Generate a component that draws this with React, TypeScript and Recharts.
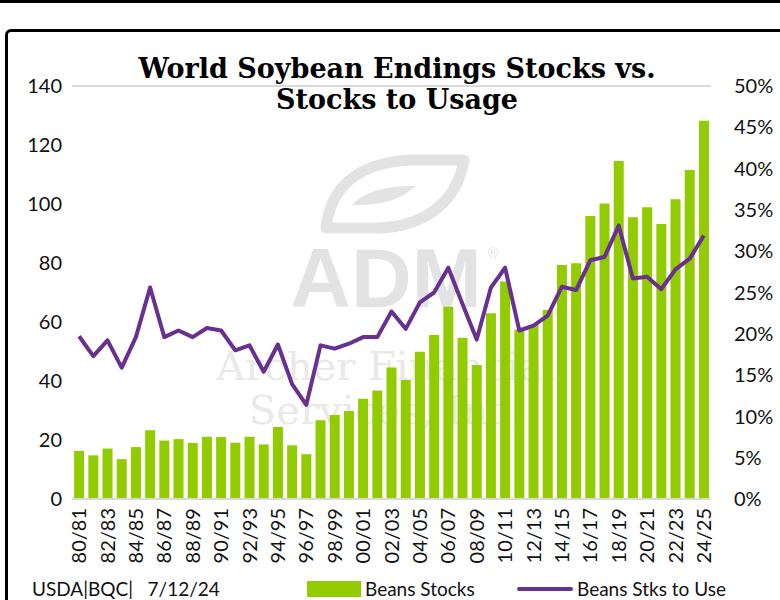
import React from 'react';
import { ComposedChart, Bar, Line, XAxis, YAxis, CartesianGrid } from 'recharts';

const years = [
  '80/81', '81/82', '82/83', '83/84', '84/85', '85/86', '86/87', '87/88', '88/89', '89/90',
  '90/91', '91/92', '92/93', '93/94', '94/95', '95/96', '96/97', '97/98', '98/99', '99/00',
  '00/01', '01/02', '02/03', '03/04', '04/05', '05/06', '06/07', '07/08', '08/09', '09/10',
  '10/11', '11/12', '12/13', '13/14', '14/15', '15/16', '16/17', '17/18', '18/19', '19/20',
  '20/21', '21/22', '22/23', '23/24', '24/25',
];

const beansStocks = [
  16.3, 14.8, 17.1, 13.5, 17.6, 23.3, 19.8, 20.3, 19.0, 21.1,
  21.0, 19.1, 21.1, 18.5, 24.4, 18.2, 15.2, 26.7, 28.5, 29.8,
  34.0, 36.8, 44.6, 40.3, 49.9, 55.6, 65.2, 54.7, 45.4, 63.0,
  73.7, 57.5, 59.0, 64.1, 79.3, 79.9, 95.9, 100.2, 114.6, 95.5,
  98.9, 93.2, 101.6, 111.5, 128.2,
];

const stksToUse = [
  19.7, 17.3, 19.2, 15.9, 19.6, 25.6, 19.6, 20.4, 19.6, 20.7,
  20.4, 18.0, 18.6, 15.4, 18.7, 13.9, 11.4, 18.6, 18.2, 18.8,
  19.6, 19.6, 22.7, 20.6, 23.8, 25.0, 28.0, 23.6, 19.3, 25.6,
  28.0, 20.4, 21.0, 22.2, 25.7, 25.3, 28.9, 29.3, 33.1, 26.7,
  26.9, 25.4, 27.8, 29.1, 31.9,
];

const leftTicks = [0, 20, 40, 60, 80, 100, 120, 140];
const rightTicks = [0, 5, 10, 15, 20, 25, 30, 35, 40, 45, 50];

const titleLines = ['World Soybean Endings Stocks vs.', 'Stocks to Usage'];
const seriesNames = ['Beans Stocks', 'Beans Stks to Use'];
const sourceNote = 'USDA|BQC|   7/12/24';
const watermarkLines = ['ADM', 'Archer Financial', 'Services, Inc.'];

const data = years.map((y, i) => ({ year: y, stocks: beansStocks[i], ratio: stksToUse[i] }));

const GREEN = '#92cc00';
const PURPLE = '#68308f';
const FONT = 'Lato, "Open Sans", sans-serif';
const TEXT = '#111';
const WM = '#e3e3e3';

const XTick = (props: any) => {
  const { x, y, payload } = props;
  return (
    <text
      x={x}
      y={y}
      transform={`rotate(-90, ${x}, ${y})`}
      textAnchor="end"
      dy="0.36em"
      fontSize={20}
      fontFamily={FONT}
      fill={TEXT}
    >
      {payload.value}
    </text>
  );
};

const Watermark = () => (
  <svg width={780} height={600} style={{ position: 'absolute', left: 0, top: 0 }}>
    <g fill="none" stroke={WM} strokeWidth={11} strokeLinejoin="round">
      <path d="M 326,228 C 330,190 355,163 410,160 L 464,160 C 458,196 432,226 378,228 Z" />
    </g>
    <path d="M 352,205 C 365,190 390,186 412,186 L 416,186 C 400,200 380,206 352,205 Z" fill={WM} />
    <text x={386} y={307} textAnchor="middle" fontSize={84} fontWeight="bold" fontFamily='"Liberation Sans", Arial, sans-serif' fill={WM}>{watermarkLines[0]}</text>
    <text x={488} y={258} fontSize={14} fontFamily='"Liberation Sans", Arial, sans-serif' fill={WM}>®</text>
    <text x={386} y={380} textAnchor="middle" fontSize={40} fontFamily='"DejaVu Serif", serif' fill="#e9e9e9">{watermarkLines[1]}</text>
    <text x={386} y={424} textAnchor="middle" fontSize={40} fontFamily='"DejaVu Serif", serif' fill="#e9e9e9">{watermarkLines[2]}</text>
  </svg>
);

export default function App() {
  return (
    <div style={{ position: 'absolute', left: 0, top: 0, width: 780, height: 600, background: '#fff', overflow: 'hidden' }}>
      <div style={{ position: 'absolute', left: 0, top: 0, width: 780, height: 3, background: '#000' }} />
      <div
        style={{
          position: 'absolute',
          left: 5,
          top: 29,
          width: 820,
          height: 640,
          border: '3px solid #000',
          borderRadius: 6,
          boxSizing: 'border-box',
        }}
      />
      <Watermark />
      <div style={{ position: 'absolute', left: 0, top: 0 }}>
        <ComposedChart
          width={780}
          height={600}
          data={data}
          margin={{ top: 86, right: 0, bottom: 0, left: 0 }}
          barCategoryGap="15%"
        >
          <CartesianGrid vertical={false} stroke="#d9d9d9" strokeWidth={2} />
          <XAxis
            dataKey="year"
            interval={1}
            height={101}
            tick={<XTick />}
            tickLine={false}
            axisLine={{ stroke: '#d9d9d9', strokeWidth: 2 }}
            tickMargin={3}
          />
          <YAxis
            yAxisId="left"
            orientation="left"
            width={72}
            domain={[0, 140]}
            ticks={leftTicks}
            axisLine={false}
            tickLine={false}
            tickMargin={4}
            tick={{ fontSize: 20, fontFamily: FONT, fill: TEXT }}
          />
          <YAxis
            yAxisId="right"
            orientation="right"
            width={69}
            domain={[0, 50]}
            ticks={rightTicks}
            axisLine={false}
            tickLine={false}
            tickMargin={17}
            tickFormatter={(v: number) => `${v}%`}
            tick={{ fontSize: 20, fontFamily: FONT, fill: TEXT, textAnchor: 'start' }}
          />
          <Bar yAxisId="left" dataKey="stocks" fill={GREEN} isAnimationActive={false} />
          <Line
            yAxisId="right"
            dataKey="ratio"
            type="linear"
            stroke={PURPLE}
            strokeWidth={4}
            dot={false}
            activeDot={false}
            strokeLinejoin="round"
            isAnimationActive={false}
          />
        </ComposedChart>
      </div>
      <svg width={780} height={600} style={{ position: 'absolute', left: 0, top: 0, pointerEvents: 'none' }}>
        <text x={397} y={78} textAnchor="middle" fontSize={27} fontWeight="bold" fontFamily='"DejaVu Serif", Georgia, serif' fill="#000">{titleLines[0]}</text>
        <text x={397} y={109} textAnchor="middle" fontSize={27} fontWeight="bold" fontFamily='"DejaVu Serif", Georgia, serif' fill="#000">{titleLines[1]}</text>
        <text x={32} y={596} fontSize={19} fontFamily={FONT} fill={TEXT} style={{ whiteSpace: 'pre' }}>{sourceNote}</text>
        <rect x={307} y={581} width={54} height={16} fill={GREEN} />
        <text x={365} y={596} fontSize={19} fontFamily={FONT} fill={TEXT}>{seriesNames[0]}</text>
        <line x1={519} y1={589} x2={571} y2={589} stroke={PURPLE} strokeWidth={4} strokeLinecap="round" />
        <text x={577} y={596} fontSize={19} fontFamily={FONT} fill={TEXT}>{seriesNames[1]}</text>
      </svg>
    </div>
  );
}
